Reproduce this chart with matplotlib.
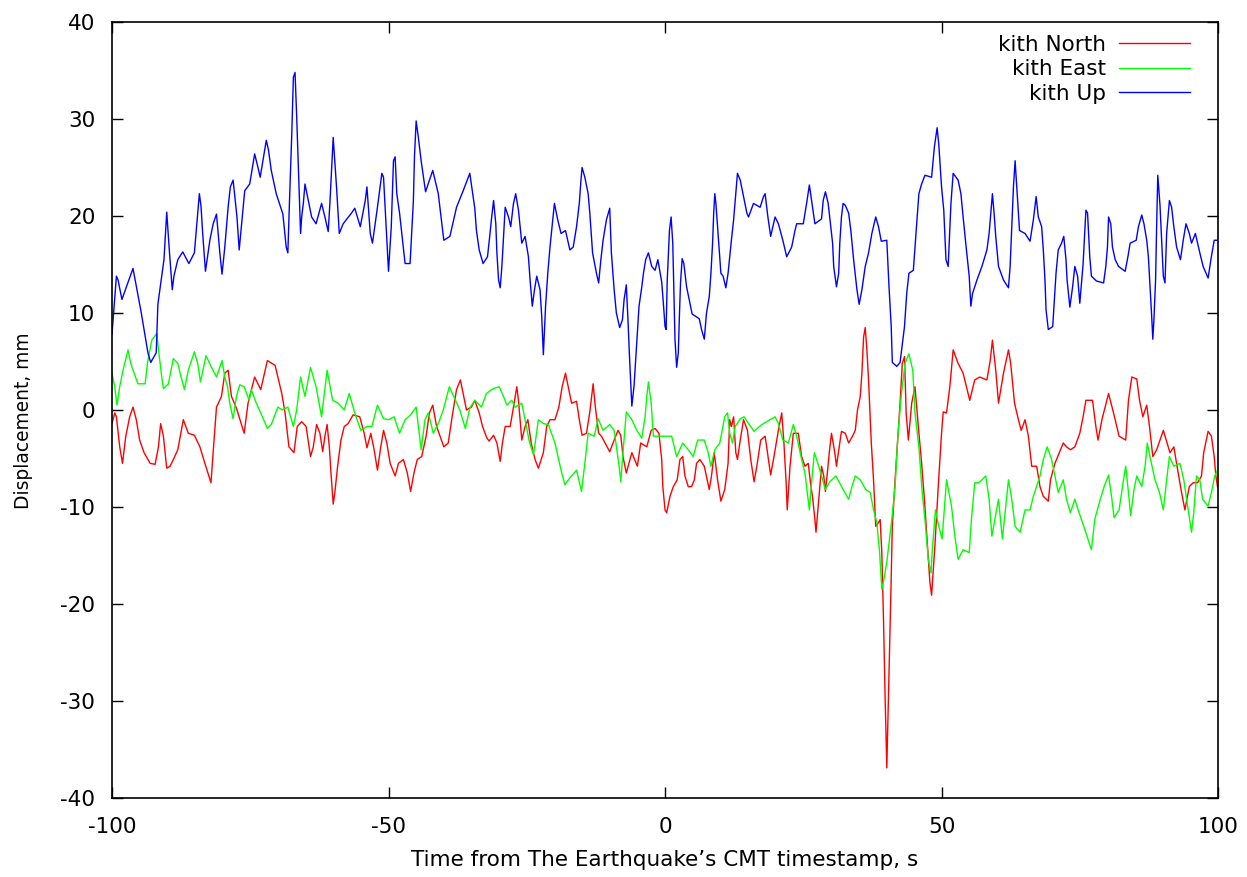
import matplotlib
matplotlib.use("Agg")
import matplotlib.pyplot as plt

plt.rcParams['font.family'] = ['DejaVu Sans']
plt.rcParams['axes.unicode_minus'] = False

# (time s, displacement mm) vertices, per component
north = [
    (-100, -1.4), (-99.5, -0.3), (-99.2, -0.7), (-98.6, -3.8), (-98.1, -5.5), (-97.5, -2.7), (-96.8, -0.7),
    (-96.2, 0.3), (-95.6, -1), (-95, -3.1), (-94.2, -4.4), (-93.1, -5.5), (-92.2, -5.6), (-91.6, -3.8),
    (-91.2, -1.4), (-90.7, -2.7), (-90.1, -6), (-89.5, -5.8), (-88.9, -5.1), (-88.1, -4.1), (-87.1, -1),
    (-86.2, -2.4), (-85.1, -2.6), (-84.1, -3.8), (-83.2, -5.5), (-82.1, -7.5), (-81.7, -4.3), (-81.1, 0.3),
    (-80.2, 1.4), (-79.6, 3.8), (-79, 4.1), (-78.4, 1.4), (-77.5, 0.2), (-76.1, -2.4), (-75.4, 0.7),
    (-74.2, 3.4), (-73.1, 2.1), (-71.9, 5.1), (-70.5, 4.6), (-69.3, 1.7), (-68.7, -0.3), (-68, -3.8),
    (-67.1, -4.4), (-66.5, -1.7), (-65.7, -1.2), (-64.9, -1.7), (-64.1, -4.8), (-63.6, -3.8), (-63, -1.5),
    (-62.4, -2.4), (-61.9, -4.3), (-61.5, -2.7), (-61.1, -1.5), (-60.7, -3.8), (-60.4, -6.5), (-60, -9.7),
    (-59.7, -8.5), (-59.2, -5.8), (-58.6, -3.1), (-58, -1.7), (-57.3, -1.4), (-56.4, -0.5), (-55.2, -0.7),
    (-54.4, -2.4), (-53.9, -3.9), (-53.2, -2.4), (-52.6, -4.1), (-52, -6.2), (-51.4, -3.8), (-50.9, -2.1),
    (-50.3, -3.4), (-49.7, -5.5), (-48.8, -6.8), (-48.2, -5.5), (-47.3, -5.1), (-46.6, -6.5), (-46, -8.4),
    (-45.4, -6.5), (-44.8, -5.1), (-44, -4.8), (-43.2, -2.7), (-42.6, -0.3), (-42, 0.5), (-41.3, -1.7),
    (-40, -3.8), (-39.2, -3.4), (-38.5, -0.7), (-37.7, 2.1), (-37, 3.1), (-36.5, 1.7), (-35.9, 0),
    (-35, 0.3), (-34.4, 1), (-33.6, -0.3), (-33, -1.7), (-32.2, -2.9), (-31.8, -3.2), (-31, -2.6),
    (-30.4, -3.4), (-29.8, -5.3), (-29.4, -3.4), (-28.9, -1.7), (-28, -1.7), (-27.4, 0.3), (-26.8, 2.4),
    (-26.5, 1), (-25.9, -3.1), (-25.3, -1.7), (-24.8, -1), (-24.2, -3.4), (-23.5, -5.1), (-22.9, -6),
    (-22, -4.4), (-21.4, -1.7), (-20.8, -1), (-19.9, -1), (-19.2, 0.3), (-18.6, 2.4), (-18, 3.8),
    (-17.5, 2.4), (-16.9, 0.7), (-16, 0.9), (-15.5, -1), (-15, -2.6), (-14.2, -2.4), (-13.6, -0.2),
    (-13, 2.7), (-12.6, 0.3), (-12, -2.4), (-11.5, -2.7), (-10, -4.3), (-9.2, -3.1), (-8.5, -2.1),
    (-8, -2.6), (-7.6, -4.8), (-7, -6.5), (-6, -4.4), (-5, -5.8), (-4.4, -3.4), (-3.3, -3.8),
    (-2.5, -2.1), (-1.8, -1.9), (-1.1, -2.4), (-0.6, -5.1), (-0.4, -7.9), (0, -10.3), (0.3, -10.6),
    (0.9, -8.9), (1.5, -7.9), (2.2, -7.2), (2.7, -5.1), (3.2, -4.8), (3.6, -6.8), (4.2, -7.9),
    (4.8, -7.9), (5.3, -7.2), (5.7, -5.5), (6.3, -5.1), (7.1, -5.8), (8, -8.2), (8.4, -6.8),
    (8.9, -4.4), (9.5, -7.2), (10.1, -9.4), (10.8, -8.2), (11.4, -5.5), (11.7, -1), (12, -1.7),
    (12.4, -0.7), (12.8, -4.4), (13.1, -5.1), (13.6, -3.1), (14.2, -1), (14.9, -2.1), (15.5, -5.1),
    (16.1, -7.4), (16.6, -5.8), (17.3, -3.1), (18.1, -2.7), (18.7, -5.1), (19.1, -6.7), (19.7, -4.8),
    (20.5, -2.1), (21.1, -0.3), (21.5, -3.4), (21.9, -7.5), (22.1, -10.3), (22.6, -5.8), (23.2, -2.4),
    (24.1, -2.4), (24.7, -4.8), (25.3, -5.8), (25.9, -5.5), (26.3, -7.5), (26.7, -9.1), (27.1, -11.3),
    (27.3, -12.6), (27.7, -9.9), (28.3, -5.8), (28.7, -6.8), (29, -8.4), (29.4, -6.2), (29.7, -4.4),
    (30.1, -2.4), (30.7, -4.4), (31, -5.8), (31.9, -2.2), (32.6, -2.4), (33.2, -3.4), (33.9, -2.7),
    (34.4, -2.1), (34.8, 0), (35.3, 1.4), (35.6, 3.8), (35.9, 7.5), (36.2, 8.5), (36.5, 6.2),
    (36.8, 3.1), (37.3, -3.4), (37.7, -7.2), (38.1, -12), (38.6, -11.6), (38.9, -11.3), (39.2, -14.7),
    (39.5, -21.5), (39.8, -29.7), (40.1, -36.9), (40.4, -29.7), (40.8, -19.8), (41.1, -12), (41.6, -7.2),
    (42.5, 0.7), (42.9, 4.8), (43.3, 5.5), (43.6, -0.3), (44, -3.1), (44.6, 0.7), (45.2, 2.4),
    (45.8, -1.7), (46.4, -5.5), (46.9, -9.2), (47.5, -14.4), (47.9, -17.8), (48.2, -19.1), (48.8, -14),
    (49.4, -7.9), (50, -2.4), (50.3, -0.2), (50.9, -0.3), (51.5, 2.4), (52.1, 6.2), (53, 4.8),
    (53.9, 3.8), (55.1, 1), (56, 3.1), (56.9, 3.4), (58.2, 3.1), (58.8, 5.1), (59.2, 7.2),
    (59.8, 4.1), (60.3, 0.7), (61.2, 3.8), (62.1, 6.2), (62.5, 4.8), (63.2, 0.7), (63.9, -1),
    (64.4, -2.1), (65.1, -1), (65.7, -2.7), (66, -4.3), (66.3, -5.8), (67.2, -5.8), (67.8, -7.9),
    (68.4, -8.9), (69.3, -9.4), (69.7, -7.2), (70.5, -5.5), (71.3, -4.4), (72, -3.4), (72.6, -3.8),
    (73.3, -4.1), (74.1, -3.8), (75, -2.4), (75.6, -0.7), (76.1, 1), (77.3, 1), (77.9, -1.7),
    (78.3, -3.1), (79, -1), (80.2, 1.7), (81.1, -0.3), (82.1, -2.7), (83.3, -3.1), (83.8, 1),
    (84.4, 3.4), (85.3, 3.2), (85.8, 1), (86.4, -0.7), (87.1, 0.5), (87.6, -1.7), (88.2, -4.8),
    (88.9, -4.1), (90.1, -2.1), (91, -3.8), (91.3, -4.4), (92, -3.8), (92.7, -6.2), (93.4, -8.5),
    (94, -10.3), (94.8, -7.9), (95.5, -7.5), (96.3, -7.5), (97, -6.8), (97.4, -4.4), (98.2, -2.2),
    (98.8, -2.7), (99.3, -4.8), (99.6, -6.8), (99.9, -7.9),
]

east = [
    (-100, 3.8), (-99.5, 2.4), (-99.1, 0.5), (-98.6, 2.4), (-98, 4.1), (-97.1, 6.2), (-96.6, 4.8),
    (-96, 3.8), (-95.3, 2.7), (-94, 2.7), (-93.6, 4.8), (-92.8, 7.2), (-91.9, 7.9), (-91.5, 5.8),
    (-91, 3.4), (-90.7, 2.2), (-89.8, 2.7), (-88.9, 5.3), (-88.1, 4.8), (-87.5, 3.4), (-86.9, 2.1),
    (-86.2, 4.1), (-85.1, 6), (-84.5, 4.8), (-84, 2.9), (-83, 5.6), (-82, 4.4), (-81.1, 3.4),
    (-80.1, 5.1), (-79.6, 3.4), (-79.1, 2.4), (-78.7, 0.7), (-78.1, -0.9), (-77.5, 1.4), (-76.9, 2.6),
    (-76.1, 2.4), (-75.2, 1), (-74.8, 2.1), (-73.9, 0.7), (-72.8, -0.7), (-71.9, -1.9), (-71.2, -1.5),
    (-70, 0.3), (-69.2, 0), (-68.2, 0.3), (-67.2, -1.7), (-66.6, 0), (-65.9, 3.4), (-65.1, 1.4),
    (-64.1, 4.4), (-63.1, 2.4), (-62.1, -0.7), (-61.1, 4.1), (-60.1, 1), (-59.1, 0.7), (-58, 0),
    (-57.1, 1.7), (-56.1, -0.3), (-55, -2.1), (-53.9, -1.7), (-53, -1.7), (-52, 0.5), (-50.9, -0.9),
    (-50, -1), (-49, -0.7), (-48, -2.4), (-47, -1), (-46, -0.5), (-45, 0.3), (-44.1, -4.1),
    (-43.4, -1), (-42.8, -0.3), (-41.9, -2.4), (-41, -1.4), (-40.1, 0), (-39, 2.4), (-38.2, 1.4),
    (-37.1, 0), (-36.1, -1.9), (-35.3, 0.2), (-34.4, 1), (-33.2, 0.3), (-32.3, 1.7), (-31.1, 2.2),
    (-30, 2.4), (-29.2, 1.4), (-28.6, 0.5), (-27.7, 1), (-27.1, 0.3), (-25.9, 0.7), (-25.3, -1),
    (-24.6, -3.1), (-23.8, -4.6), (-23.4, -3.1), (-22.9, -1), (-22, -1.4), (-21.1, -1.5), (-19.9, -3.4),
    (-18.8, -6.2), (-18.1, -7.7), (-17.2, -7), (-16, -6.2), (-15.1, -8.4), (-14.5, -5.5), (-13.9, -2.4),
    (-12.8, -2.7), (-12.1, -0.9), (-11.2, -2.1), (-10, -1.5), (-9.2, -2.1), (-8.3, -5.8), (-8, -7.4),
    (-7.6, -4.4), (-7, -0.2), (-6, -1), (-5.1, -2.1), (-4.2, -2.9), (-3.6, -0.7), (-3.3, 1.4),
    (-3, 2.9), (-2.5, 0.7), (-2.1, -2.7), (-0.9, -2.7), (1.2, -2.7), (2.1, -4.8), (3.2, -3.4),
    (4.2, -4.1), (5.1, -4.8), (5.9, -3.1), (7.1, -3.1), (7.8, -4.4), (8.3, -5.8), (9, -4.1),
    (9.9, -3.4), (10.8, -0.7), (11.3, -0.3), (11.7, -2.4), (12.2, -3.4), (12.7, -1.7), (13.6, -0.9),
    (14.3, -0.7), (15.1, -1.4), (16.1, -2.2), (17.5, -1.5), (18.4, -1.2), (19.9, -0.7), (20.5, -1.4),
    (21.3, -3.1), (22.3, -3.4), (23.2, -1.5), (23.8, -2.7), (24.7, -5.1), (25.3, -6.5), (26.1, -10.3),
    (26.5, -7.5), (27, -4.4), (27.8, -5.8), (29, -8.2), (29.8, -7.4), (30.9, -6.8), (32.2, -8.2),
    (33.2, -9.2), (33.8, -7.9), (34.4, -6.8), (35.3, -7.2), (36.3, -8.2), (37.1, -8.5), (37.7, -10.3),
    (38.3, -11.6), (38.8, -14.7), (39.2, -18.5), (39.6, -17.4), (40.1, -15.7), (41, -11.3), (41.6, -7.9),
    (42.1, -2.7), (42.7, 1.4), (43.4, 4.8), (44.1, 5.8), (44.8, 4.1), (45.2, -0.3), (45.9, -3.8),
    (46.5, -8.5), (47, -11.3), (47.6, -15.4), (48.1, -16.8), (48.3, -14.7), (48.9, -10.3), (49.5, -12),
    (50.1, -13.3), (50.9, -7.2), (51.8, -9.9), (52.4, -13), (53, -15.4), (53.9, -14.4), (55, -14.7),
    (55.4, -11.3), (56, -7.5), (56.8, -7.5), (58, -6.8), (58.6, -9.2), (59.1, -13), (60.3, -9.2),
    (61, -13.3), (62.1, -7.2), (62.7, -9.2), (63.3, -12), (64.2, -12.6), (65.1, -10.3), (66, -10.3),
    (66.6, -8.9), (67.8, -6.8), (68.4, -5.1), (69.1, -3.8), (69.9, -5.1), (70.5, -6.8), (71.1, -8.5),
    (72, -7.2), (72.6, -9.2), (73.3, -10.6), (74.1, -9.2), (74.7, -10.3), (75.9, -12.3), (77.1, -14.4),
    (77.7, -11.3), (78.7, -9.2), (79.4, -7.9), (80.2, -6.7), (80.8, -9.2), (81.2, -11.1), (82.1, -10.3),
    (82.9, -7.2), (83.3, -5.8), (83.8, -8.5), (84.2, -10.9), (84.8, -8.2), (85.3, -6.8), (86.2, -7.9),
    (86.8, -5.8), (87.2, -3.4), (87.8, -5.1), (88.6, -7.2), (89.4, -8.5), (90.1, -10.3), (90.7, -7.2),
    (91.2, -4.8), (92, -5.8), (93.1, -5.5), (93.8, -7.2), (94.6, -10.3), (95.2, -12.6), (95.6, -10.6),
    (96.1, -6.8), (96.7, -7.2), (97.2, -9.2), (98.2, -9.9), (98.8, -8.5), (99.4, -6.8), (99.9, -6.2),
]

up = [
    (-100, 7.8), (-99.2, 13.8), (-98.9, 13.4), (-98.2, 11.4), (-96.2, 14.6), (-94.7, 10), (-93.5, 5.9),
    (-93, 4.9), (-92, 5.9), (-91.7, 10.9), (-91.1, 13.4), (-90.6, 15.5), (-90.1, 20.4), (-89.6, 16.2),
    (-89.1, 12.4), (-88.8, 13.8), (-88.1, 15.5), (-87.2, 16.3), (-86.1, 15.1), (-85.1, 16.2), (-84.8, 18.2),
    (-84.2, 22.3), (-83.9, 21), (-83.6, 18.2), (-83.1, 14.3), (-82.3, 17.5), (-81.7, 19.2), (-81.1, 20.2),
    (-80.5, 16.2), (-80.1, 14), (-79.6, 16.8), (-79, 20.9), (-78.6, 23), (-78.1, 23.7), (-77.4, 19.9),
    (-77, 16.5), (-76.6, 18.9), (-76, 22.6), (-75.1, 23.3), (-74.2, 26.4), (-73.6, 25), (-73.2, 24),
    (-72.7, 25.7), (-72.1, 27.8), (-71.7, 26.8), (-71.2, 24.7), (-70.3, 22.3), (-69.1, 20.2), (-68.5, 16.8),
    (-68.2, 16.2), (-67.9, 21.6), (-67.5, 28.3), (-67.2, 34.3), (-66.9, 34.8), (-66.6, 30.2), (-66.3, 25),
    (-65.9, 18.2), (-65.7, 19.9), (-65.4, 21.3), (-65.1, 23.3), (-64.5, 21.6), (-63.9, 19.9), (-63.1, 19.2),
    (-62.1, 21.3), (-61.5, 19.9), (-60.9, 18.4), (-60.6, 21.3), (-60.1, 27.1), (-60, 28.1), (-59.4, 23),
    (-58.9, 18.2), (-58.2, 19.2), (-56.7, 20.3), (-56.1, 20.8), (-55.1, 18.9), (-54.2, 21.6), (-53.9, 23),
    (-53.3, 18.2), (-52.9, 17.2), (-52, 20.9), (-51.2, 24.4), (-50.9, 24), (-50.3, 17.5), (-50, 14.3),
    (-49.5, 18.9), (-49.1, 25.7), (-48.8, 26.1), (-48.5, 22.3), (-48, 20.3), (-47, 15.1), (-46.1, 15.1),
    (-45.5, 21.6), (-45.3, 26.2), (-45, 29.8), (-44.6, 28.1), (-44.1, 25.7), (-43.3, 22.5), (-42, 24.7),
    (-41, 22.3), (-40, 17.5), (-38.9, 17.9), (-37.7, 20.9), (-36.5, 22.6), (-35.3, 24.4), (-34.4, 20.8),
    (-34.1, 18.5), (-33.6, 16.5), (-32.9, 15.1), (-32.1, 15.8), (-31.7, 17.9), (-31.4, 19.6), (-31, 21.6),
    (-30.6, 19.2), (-30.4, 16.2), (-30.1, 13.4), (-29.8, 12.6), (-29.5, 14.8), (-29.2, 17.9), (-28.9, 20.9),
    (-28.3, 19.9), (-27.9, 18.9), (-27.4, 21.3), (-27, 22.3), (-26.5, 20.6), (-25.9, 17.2), (-25.3, 17.9),
    (-24.7, 15.8), (-24.4, 13.4), (-24, 10.7), (-23.6, 12.4), (-23.2, 13.8), (-22.6, 12.4), (-22.3, 9.7),
    (-22, 5.7), (-21.6, 10.7), (-21.2, 14.1), (-20.8, 16.8), (-20.5, 18.5), (-20, 21.3), (-19.4, 19.6),
    (-18.8, 18.2), (-18, 18.5), (-17.2, 16.5), (-16.6, 16.8), (-16, 18.9), (-15.5, 21.3), (-15.2, 23.7),
    (-15, 25), (-14.5, 24), (-13.9, 22.3), (-13.6, 20.3), (-13.1, 16.2), (-12.4, 14.1), (-12, 13.1),
    (-11.6, 15.5), (-11.2, 17.5), (-10.6, 19.6), (-10, 20.8), (-9.7, 16.2), (-9.2, 12.4), (-8.8, 10),
    (-8.2, 8.5), (-7.7, 9.3), (-7.4, 11.4), (-7, 12.9), (-6.7, 9.3), (-6.4, 5.2), (-6, 0.4),
    (-5.6, 2.5), (-5.3, 5.2), (-5, 8), (-4.7, 10.7), (-4.2, 12.7), (-3.9, 14.1), (-3.5, 15.5),
    (-3, 16.2), (-2.4, 14.8), (-1.8, 14.4), (-1.3, 15.5), (-0.6, 13.2), (-0.3, 11), (0, 8.6),
    (0.2, 8.3), (0.4, 13.4), (0.8, 18.5), (1.1, 19.9), (1.4, 17.2), (1.6, 12.1), (1.8, 7.3),
    (2.1, 4.4), (2.4, 5.9), (2.6, 9.7), (2.8, 13.1), (3.1, 15.6), (3.4, 15.1), (3.9, 12.7),
    (4.5, 11), (4.9, 9.9), (5.7, 9.6), (6.2, 9.4), (6.6, 8.3), (7.1, 7.3), (7.5, 10),
    (8, 11.7), (8.3, 14.1), (8.6, 17.2), (8.8, 20.3), (9, 22.3), (9.2, 21.3), (9.5, 18.9),
    (9.8, 16.5), (10.1, 14.1), (10.5, 13.8), (11, 12.6), (11.4, 14.1), (11.7, 15.8), (12, 17.5),
    (12.4, 19.6), (12.7, 21.6), (13.1, 24.4), (13.6, 23.7), (14.2, 22), (14.8, 20.3), (15.1, 19.9),
    (16, 21.3), (17.2, 20.9), (17.8, 22), (18.1, 22.3), (18.6, 19.9), (19.1, 17.9), (19.9, 19.9),
    (20.5, 19.2), (21.3, 17.5), (22, 15.8), (22.9, 16.8), (23.5, 18.5), (23.8, 19.2), (25, 19.2),
    (25.6, 21.3), (26.1, 23.2), (26.5, 21.6), (27.1, 19.2), (28.3, 19.7), (28.6, 21.6), (29, 22.5),
    (29.5, 21.3), (29.9, 19.2), (30.3, 17.2), (30.5, 14.8), (31, 12.7), (31.4, 14.1), (31.6, 17.2),
    (31.9, 19.9), (32.2, 21.3), (32.6, 21.1), (33.2, 20.3), (33.6, 18.5), (34.1, 15.5), (34.7, 12.4),
    (35.1, 10.9), (35.6, 12.4), (36.2, 14.8), (36.8, 16.2), (37.4, 18.2), (38.1, 19.9), (38.6, 18.9),
    (39.1, 17.4), (40.1, 17.5), (40.5, 12.7), (40.9, 8.6), (41.1, 4.9), (41.9, 4.5), (42.5, 4.9),
    (43.3, 8.6), (43.7, 12), (44.1, 14.1), (44.9, 14.4), (45.3, 17.5), (45.9, 22.3), (46.4, 23.3),
    (47, 24.2), (48.2, 24), (48.7, 27.1), (49.2, 29.1), (49.5, 27.4), (50, 23), (50.4, 20.6),
    (50.8, 15.5), (51.2, 14.8), (51.7, 21.3), (52.1, 24.4), (53, 23.7), (53.5, 22.3), (53.9, 19.9),
    (54.5, 16.5), (55, 13.8), (55.3, 10.7), (55.6, 12), (56.4, 13.4), (57.3, 14.8), (58.2, 16.5),
    (58.6, 18.2), (58.9, 20.3), (59.2, 22.3), (59.5, 20.3), (59.8, 17.9), (60.3, 14.8), (61.2, 13.4),
    (62.1, 12.6), (62.4, 14.8), (62.7, 18.9), (63, 23), (63.3, 25.7), (63.6, 23), (64.1, 18.5),
    (65.1, 18.2), (66, 17.4), (66.6, 19.6), (67.1, 22), (67.5, 19.9), (68.1, 18.9), (68.4, 16.5),
    (68.7, 13.4), (68.9, 10.3), (69.3, 8.3), (70.1, 8.6), (70.4, 11.4), (70.7, 14.1), (71.1, 16.5),
    (71.7, 17.2), (72.1, 17.9), (72.5, 15.5), (72.7, 13.4), (73.2, 10.6), (73.7, 12.7), (74.1, 14.8),
    (74.6, 13.8), (75, 11), (75.6, 15.1), (76.1, 20.6), (76.4, 20.3), (76.8, 15.8), (77.1, 13.8),
    (78, 13.3), (79.3, 13.1), (79.7, 14.8), (80, 16.8), (80.2, 19.9), (80.6, 19.2), (80.9, 16.8),
    (81.4, 15.5), (82, 14.8), (83.2, 14.3), (83.7, 15.8), (84.1, 17.2), (85.2, 17.5), (85.6, 18.9),
    (86.2, 20.1), (86.6, 19.2), (87.1, 17.5), (87.4, 15.8), (87.7, 12.7), (88, 9.6), (88.2, 7.3),
    (88.4, 9.3), (88.7, 13.4), (88.9, 19.2), (89.1, 24.2), (89.5, 21.1), (89.8, 17.5), (90.1, 13.8),
    (90.4, 13.1), (90.7, 18.2), (91.2, 21.6), (91.6, 20.9), (92, 18.9), (92.5, 16.8), (93.2, 15.5),
    (93.7, 17.5), (94.2, 19.2), (94.8, 18.2), (95.2, 17.2), (95.9, 18.2), (96.7, 16.2), (97.3, 14.8),
    (98.2, 13.6), (98.7, 15.5), (99.3, 17.5), (100, 17.5),
]

series = [("kith North", north, "#ff0000"),
          ("kith East", east, "#00ff00"),
          ("kith Up", up, "#0000ff")]

x_ticks = [-100, -50, 0, 50, 100]
y_ticks = list(range(-40, 41, 10))

fig = plt.figure(figsize=(12.47, 8.77), dpi=100)
ax = fig.add_axes([0.0898, 0.0901, 0.887, 0.8848])

for label, pts, color in series:
    t, mm = zip(*pts)
    ax.plot(t, mm, color=color, linewidth=1.0, label=label)

ax.set_xlim(-100, 100)
ax.set_ylim(-40, 40)
ax.set_xticks(x_ticks)
ax.set_yticks(y_ticks)
ax.tick_params(direction='in', length=8, width=1, top=True, right=True,
               labelsize=15.5, colors='black')
ax.tick_params(axis='x', pad=14)
ax.tick_params(axis='y', pad=12)
for sp in ax.spines.values():
    sp.set_linewidth(1.2)

ax.set_xlabel("Time from The Earthquake\u2019s CMT timestamp, s", fontsize=15.5, labelpad=9)
ax.set_ylabel("Displacement, mm", fontsize=13.4)
ax.yaxis.set_label_coords(-0.071, 0.486)

leg = ax.legend(loc='upper right', bbox_to_anchor=(1 - 28 / 1106, 1 - 13 / 776),
                frameon=False, markerfirst=False, fontsize=15.5, handlelength=3.3,
                handletextpad=0.6, labelspacing=0.2, borderaxespad=0, borderpad=0)

fig.savefig("out.png", dpi=100)
